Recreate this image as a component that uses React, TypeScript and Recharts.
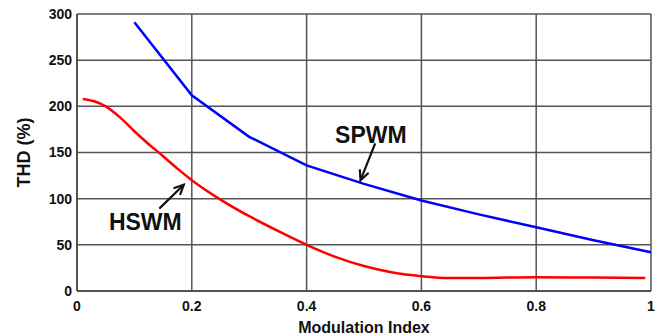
import React from 'react'
import {
  LineChart, Line, XAxis, YAxis, CartesianGrid, ReferenceLine, ReferenceDot,
} from 'recharts'

// modulation index vs THD
const spwmIndex = [0.1, 0.2, 0.3, 0.4, 0.5, 0.6, 0.7, 0.8, 0.9, 1.0]
const spwmThd = [291, 212, 167, 136, 116, 98, 83, 69, 55, 42]

const hswmIndex = [0.01, 0.03, 0.05, 0.075, 0.1, 0.125, 0.15, 0.175, 0.2, 0.25, 0.3, 0.35, 0.4, 0.45, 0.5, 0.55, 0.6, 0.65, 0.7, 0.8, 0.9, 0.99]
const hswmThd = [208, 205.5, 200, 188, 173, 159, 146, 132.5, 120, 99, 81, 65, 50, 37, 27, 20, 16, 14, 14, 15, 14.5, 14]

const xTicks = [0, 0.2, 0.4, 0.6, 0.8, 1]
const yTicks = [0, 50, 100, 150, 200, 250, 300]

const spwm = spwmIndex.map((m, i) => ({ m, thd: spwmThd[i] }))
const hswm = hswmIndex.map((m, i) => ({ m, thd: hswmThd[i] }))

const FONT = 'Arial, "Liberation Sans", sans-serif'
const GRID = '#555'

const Arrow = (p: any) => {
  const { x1, y1, x2, y2 } = p
  const a = Math.atan2(y2 - y1, x2 - x1)
  const len = 10
  const spread = 0.45
  const ax = x2 - len * Math.cos(a - spread)
  const ay = y2 - len * Math.sin(a - spread)
  const bx = x2 - len * Math.cos(a + spread)
  const by = y2 - len * Math.sin(a + spread)
  return (
    <g stroke="#111" strokeWidth={2.2} fill="none" strokeLinecap="round">
      <line x1={x1} y1={y1} x2={x2} y2={y2} />
      <polyline points={`${ax},${ay} ${x2},${y2} ${bx},${by}`} />
    </g>
  )
}

const tag = (text: string) => (p: any) => (
  <text x={p.cx} y={p.cy} textAnchor="middle" dominantBaseline="central"
    fontFamily={FONT} fontWeight="bold" fontSize={23} fill="#111">{text}</text>
)

const YTitle = (p: any) => {
  const vb = p.viewBox
  const x = vb.x + 24
  const y = vb.y + vb.height / 2
  return (
    <text x={x} y={y} transform={`rotate(-90 ${x} ${y})`} textAnchor="middle"
      dominantBaseline="central" fontFamily={FONT} fontWeight="bold" fontSize={18} fill="#111">
      THD (%)
    </text>
  )
}

export default function App() {
  return (
    <div style={{ position: 'absolute', left: 0, top: 0, width: 663, height: 336, background: '#fff' }}>
      <LineChart width={663} height={336} margin={{ top: 14, right: 12, bottom: 0, left: 0 }}>
        <CartesianGrid stroke={GRID} strokeWidth={1.5} />
        <XAxis type="number" dataKey="m" domain={[0, 1]} ticks={xTicks} height={45}
          tickSize={0} tickMargin={10} stroke="#444" strokeWidth={1.5}
          tick={{ fontFamily: FONT, fontWeight: 'bold', fontSize: 14, fill: '#111' }}
          label={{ value: 'Modulation Index', position: 'insideBottom', offset: 3,
            fontFamily: FONT, fontWeight: 'bold', fontSize: 16, fill: '#111' }} />
        <YAxis type="number" domain={[0, 300]} ticks={yTicks} width={77}
          tickSize={0} tickMargin={5} stroke="#444" strokeWidth={1.5}
          tick={{ fontFamily: FONT, fontWeight: 'bold', fontSize: 14, fill: '#111' }}
          label={{ content: YTitle }} />
        <Line data={spwm} dataKey="thd" type="linear" stroke="#0000ff" strokeWidth={2.5}
          dot={false} isAnimationActive={false} />
        <Line data={hswm} dataKey="thd" type="monotone" stroke="#ff0000" strokeWidth={2.5}
          dot={false} isAnimationActive={false} />
        <ReferenceLine segment={[{ x: 0.519, y: 159 }, { x: 0.494, y: 120 }]} shape={Arrow} />
        <ReferenceLine segment={[{ x: 0.1446, y: 90 }, { x: 0.186, y: 115 }]} shape={Arrow} />
        <ReferenceDot x={0.512} y={169} r={0} shape={tag('SPWM')} />
        <ReferenceDot x={0.119} y={75} r={0} shape={tag('HSWM')} />
      </LineChart>
    </div>
  )
}
